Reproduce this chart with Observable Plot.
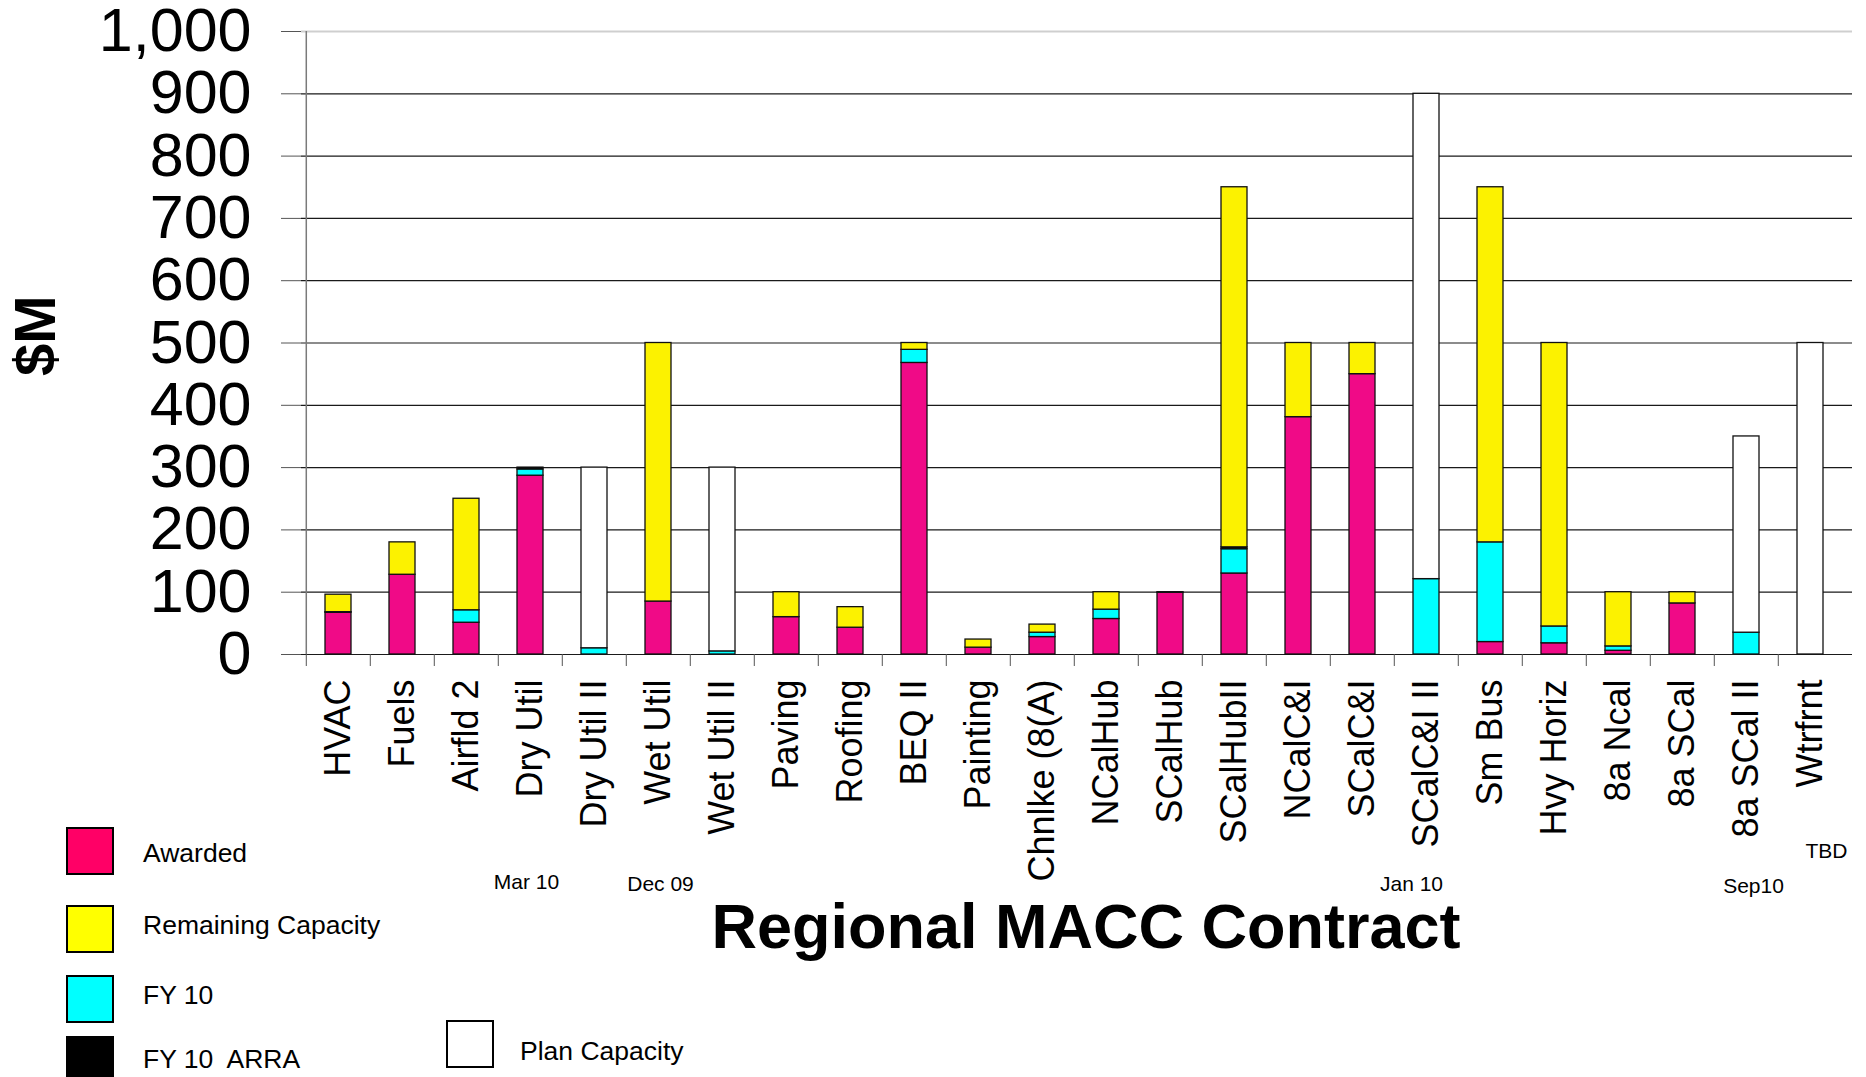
<!DOCTYPE html>
<html>
<head>
<meta charset="utf-8">
<script src="https://cdn.jsdelivr.net/npm/d3@7"></script>
<script src="https://cdn.jsdelivr.net/npm/@observablehq/plot@0.6"></script>
<style>
  html, body { margin: 0; padding: 0; background: #fff; overflow: hidden; }
  #wrap { position: relative; width: 1866px; height: 1077px; font-family: "Liberation Sans", Arial, sans-serif; }
  #chart { position: absolute; left: 0; top: 0; }
  .abs { position: absolute; white-space: nowrap; color: #000; }
  .sw { position: absolute; width: 44px; height: 44px; border: 2px solid #000; box-sizing: content-box; }
  .lt { position: absolute; font-size: 26.5px; line-height: 30px; white-space: pre; }
  #title { font-weight: bold; font-size: 63px; line-height: 46px; text-align: center; width: 1200px; }
</style>
</head>
<body>
<div id="wrap">
  <div id="chart"></div>
  <div id="title" class="abs"></div>
  <div id="legend"></div>
</div>
<script>
// ---- data ----
const categories = ["HVAC","Fuels","Airfld 2","Dry Util","Dry Util II","Wet Util","Wet Util II","Paving","Roofing","BEQ II","Painting","Chnlke (8(A)","NCalHub","SCalHub","SCalHubII","NCalC&I","SCalC&I","SCalC&I II","Sm Bus","Hvy Horiz","8a Ncal","8a SCal","8a SCal II","Wtrfrnt"];
const awarded   = [67,128,51,287,0,85,0,60,43,468,11,28,57,99,130,381,450,0,20,18,6,82,0,0];
const fy10      = [0,0,20,10,10,0,5,0,0,21,0,7,15,0,39,0,0,121,160,27,7,0,35,0];
const fy10Arra  = [1,0,0,3,0,0,0,0,0,0,0,0,0,1,3,0,0,0,0,0,0,0,0,0];
const remaining = [28,52,179,0,0,415,0,40,33,11,13,13,28,0,578,119,50,0,570,455,87,18,0,0];
const planCap   = [0,0,0,0,290,0,295,0,0,0,0,0,0,0,0,0,0,779,0,0,0,0,315,500];
const seriesNames = ["Awarded","FY 10","FY 10  ARRA","Remaining Capacity","Plan Capacity"];
const yTicks = [0,100,200,300,400,500,600,700,800,900,1000];
const dateCats  = ["Dry Util","Wet Util","SCalC&I II","8a SCal II","Wtrfrnt"];
const dateTexts = ["Mar 10","Dec 09","Jan 10","Sep10","TBD"];
const titleText = "Regional MACC Contract";
const yLabel = "$M";

// ---- styles ----
const barColors = ["#F00A87","#00FFFF","#000000","#FCF200","#FFFFFF"];
const legendItems = [
  {name:"Awarded", color:"#FF0066", sx:66, sy:827, tx:143, ty:838},
  {name:"Remaining Capacity", color:"#FFFF00", sx:66, sy:905, tx:143, ty:910},
  {name:"FY 10", color:"#00FFFF", sx:66, sy:975, tx:143, ty:980},
  {name:"FY 10  ARRA", color:"#000000", sx:66, sy:1036, tx:143, ty:1044},
  {name:"Plan Capacity", color:"#FFFFFF", sx:446, sy:1020, tx:520, ty:1036}
];
const dateOffsets = [[-4,228],[2,230],[-15,230],[7,232],[16,197]];

const seriesValues = [awarded, fy10, fy10Arra, remaining, planCap];
const stackData = [];
categories.forEach((c, i) => {
  seriesNames.forEach((s, k) => {
    const v = seriesValues[k][i];
    if (v > 0) stackData.push({cat: c, series: s, value: v});
  });
});

const xRange = [301, 1847];
const step = (xRange[1] - xRange[0]) / categories.length;

const dateMarks = dateCats.map((c, i) =>
  Plot.text([{cat: c, label: dateTexts[i]}], {
    x: "cat", y: () => 0, text: "label",
    dx: dateOffsets[i][0], dy: dateOffsets[i][1],
    fontSize: 21, fill: "#000"
  })
);

const chart = Plot.plot({
  width: 1866,
  height: 1077,
  marginLeft: 301,
  marginRight: 14,
  marginTop: 31,
  marginBottom: 423,
  style: {fontFamily: "'Liberation Sans', Arial, sans-serif", background: "#fff", color: "#000", overflow: "visible"},
  x: {domain: categories, range: xRange, paddingInner: 0.6, paddingOuter: 0.3, axis: null},
  y: {domain: [0, 1000], axis: null},
  color: {domain: seriesNames, range: barColors},
  marks: [
    Plot.gridY(yTicks.filter(d => d < 1000), {stroke: "#1a1a1a", strokeOpacity: 1, strokeWidth: 1.2}),
    Plot.gridY([1000], {stroke: "#cfcfcf", strokeOpacity: 1, strokeWidth: 2}),
    Plot.ruleX([categories[0]], {dx: -step / 2, y1: 0, y2: 1000, stroke: "#7a7a7a", strokeWidth: 1.5}),
    Plot.axisY(yTicks, {tickSize: 20, tickPadding: 30, fontSize: 61, tickFormat: d3.format(","), stroke: "#555", label: null}),
    Plot.axisX({tickSize: 12, tickFormat: () => "", dx: -step / 2, stroke: "#555", label: null}),
    Plot.axisX({tickRotate: -90, tickSize: 0, tickPadding: 25, fontSize: 36, label: null}),
    Plot.barY(stackData, {x: "cat", y: "value", fill: "series", stroke: "#111", strokeWidth: 1.3}),
    Plot.text([yLabel], {frameAnchor: "left", dx: -265, dy: 33, rotate: -90, fontSize: 58, fontWeight: "bold", fill: "#000"}),
    ...dateMarks
  ]
});
document.getElementById("chart").appendChild(chart);

// title
const t = document.getElementById("title");
t.textContent = titleText;
t.style.left = (1086 - 600) + "px";
t.style.top = (921 - 18) + "px";

// legend
const lg = document.getElementById("legend");
legendItems.forEach(it => {
  const s = document.createElement("div");
  s.className = "sw";
  s.style.left = it.sx + "px";
  s.style.top = it.sy + "px";
  s.style.background = it.color;
  lg.appendChild(s);
  const l = document.createElement("div");
  l.className = "lt";
  l.style.left = it.tx + "px";
  l.style.top = it.ty + "px";
  l.textContent = it.name;
  lg.appendChild(l);
});
</script>
</body>
</html>
